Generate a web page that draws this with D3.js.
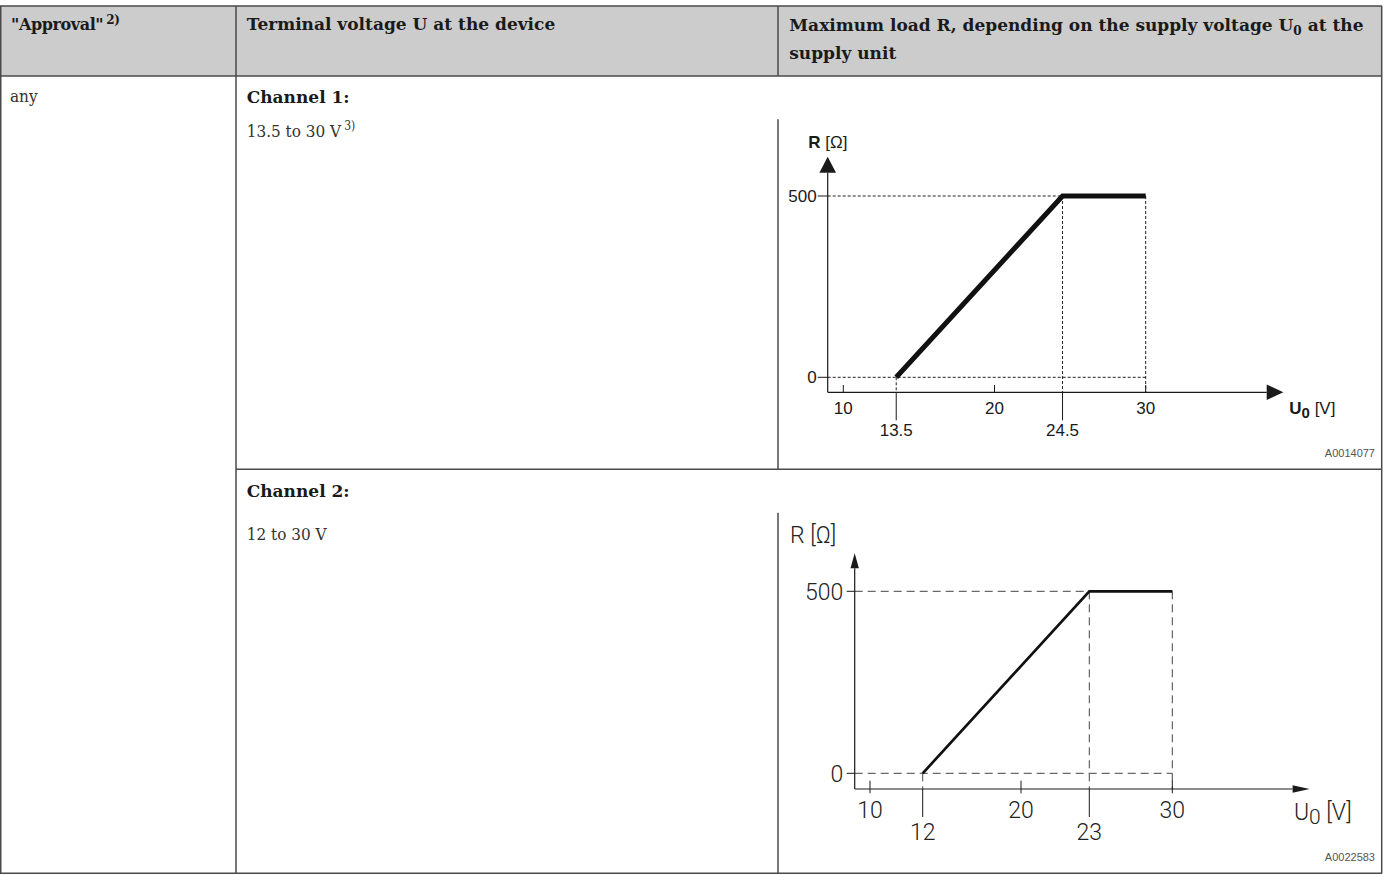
<!DOCTYPE html>
<html>
<head>
<meta charset="utf-8">
<script src="https://cdn.jsdelivr.net/npm/d3@7"></script>
<style>
body { margin: 0; background: #fff; }
.cell { font-family: 'DejaVu Serif', serif; font-size: 17px; fill: #1a1a1a; }
.head { font-weight: bold; }
.val { font-family: 'DejaVu Serif Condensed', 'DejaVu Serif', serif; fill: #333; }
.sup { font-size: 12px; }
.c1 text { font-family: 'Liberation Sans', Arial, sans-serif; font-size: 17px; fill: #1a1a1a; }
.c2 text { font-family: Roboto, 'DejaVu Sans', sans-serif; font-weight: 300; font-size: 23px; fill: #222; }
.figid { font-family: 'Liberation Sans', sans-serif; font-size: 11px; fill: #555; }
</style>
</head>
<body>
<div id="table"></div>
<script>
// Channel load curves: supply voltage U0 [V] -> max load R [Ohm]
const ch1Volt = [13.5, 24.5, 30];
const ch1Load = [0, 500, 500];
const ch2Volt = [12, 23, 30];
const ch2Load = [0, 500, 500];

// axis ticks
const voltTicks = [10, 20, 30];
const loadTicks = [0, 500];
const ch1Marks = [13.5, 24.5];
const ch2Marks = [12, 23];

const W = 1384, H = 875;

const svg = d3.select("#table")
  .append("svg")
  .attr("width", W)
  .attr("height", H);

// header band
svg.append("rect")
  .attr("x", 0).attr("y", 6)
  .attr("width", 1382).attr("height", 70)
  .attr("fill", "#cccccc");

// table rules
const rules = [
  [0, 6, 1382, 6], [0, 76, 1382, 76], [236, 469.3, 1382, 469.3], [0, 873.3, 1382, 873.3],
  [0.75, 6, 0.75, 873.3], [1381.7, 6, 1381.7, 873.3], [236, 6, 236, 873.3],
  [778, 6, 778, 76], [778, 119.3, 778, 469.3], [778, 512.7, 778, 873.3]
];
svg.append("g")
  .selectAll("line")
  .data(rules)
  .join("line")
  .attr("x1", d => d[0]).attr("y1", d => d[1])
  .attr("x2", d => d[2]).attr("y2", d => d[3])
  .attr("stroke", "#4a4a4a")
  .attr("stroke-width", 1.5);

// header texts
const t1 = svg.append("text").attr("class", "cell head").attr("x", 11).attr("y", 30)
  .style("font-size", "16px").attr("letter-spacing", -0.4);
t1.append("tspan").text('"Approval"');
t1.append("tspan").attr("class", "sup").attr("dx", 3).attr("dy", -6).text("2)");

svg.append("text").attr("class", "cell head").attr("x", 246.7).attr("y", 30)
  .text("Terminal voltage U at the device");

const t3 = svg.append("text").attr("class", "cell head").attr("x", 789.3).attr("y", 31);
t3.append("tspan").text("Maximum load R, depending on the supply voltage U");
t3.append("tspan").attr("class", "sup").attr("dy", 4).text("0");
t3.append("tspan").attr("dy", -4).text(" at the");
svg.append("text").attr("class", "cell head").attr("x", 789.3).attr("y", 59).text("supply unit");

// body texts
svg.append("text").attr("class", "cell val").attr("x", 10).attr("y", 102).text("any");
svg.append("text").attr("class", "cell head").attr("x", 246.7).attr("y", 103).text("Channel 1:");
const v1 = svg.append("text").attr("class", "cell val").attr("x", 246.7).attr("y", 137);
v1.append("tspan").text("13.5 to 30 V");
v1.append("tspan").attr("class", "sup").attr("dx", 3).attr("dy", -7).text("3)");
svg.append("text").attr("class", "cell head").attr("x", 246.7).attr("y", 497).text("Channel 2:");
svg.append("text").attr("class", "cell val").attr("x", 246.7).attr("y", 540).text("12 to 30 V");

// figure ids
svg.append("text").attr("class", "figid").attr("x", 1375).attr("y", 457.3)
  .attr("text-anchor", "end").text("A0014077");
svg.append("text").attr("class", "figid").attr("x", 1375).attr("y", 860.7)
  .attr("text-anchor", "end").text("A0022583");

// chart settings
const charts = [
  {
    cls: "c1", volt: ch1Volt, load: ch1Load, marks: ch1Marks,
    x: d3.scaleLinear().domain([10, 30]).range([843.3, 1145.7]),
    y: d3.scaleLinear().domain([0, 500]).range([377.3, 196]),
    ox: 827.7, oy: 392.3, top: 156.7, right: 1283.3,
    yArrow: [16, 8.3], xArrow: [16.6, 7.8], dash: "3,2", lineW: 5, guideCol: "#222",
    yTick: 10, tickUp: 7.3, tickDown: 0, markDrop: 28, labY1: 21.7, labY2: 43.7,
    yLabGap: 11, yLabDy: 6,
    rLab: [808.3, 148.3], rSize: 18, uLab: [1289.3, 414], uSize: 18, bold: true, subSize: 15, subDy: 4.3
  },
  {
    cls: "c2", volt: ch2Volt, load: ch2Load, marks: ch2Marks,
    // the source figure draws 12 and 23 where 13.5 and 24.5 sit on channel 1
    x: d3.scaleLinear().domain([10, 12, 20, 23, 30]).range([870, 922.7, 1021, 1089.3, 1172.3]),
    y: d3.scaleLinear().domain([0, 500]).range([773.3, 591.3]),
    ox: 854.7, oy: 789, top: 553.3, right: 1309.6,
    yArrow: [15, 4.2], xArrow: [17, 3.8], dash: "8,5", lineW: 2.7, guideCol: "#444",
    yTick: 8, tickUp: 8.3, tickDown: 4.3, markDrop: 28, labY1: 29.3, labY2: 51,
    yLabGap: 11.4, yLabDy: 8.7,
    rLab: [790, 543.3], rSize: 23, uLab: [1293.9, 820], uSize: 23, bold: false, subSize: 21, subDy: 4
  }
];

charts.forEach(function(c) {
  const g = svg.append("g").attr("class", c.cls);
  const x = c.x, y = c.y;
  const xMax = d3.max(c.volt), yMax = d3.max(c.load);

  // dashed guides
  const guides = [
    [c.ox, y(yMax), x(xMax), y(yMax)],
    [c.ox, y(0), x(xMax), y(0)],
    [x(xMax), y(yMax), x(xMax), c.oy],
    [x(c.marks[1]), y(yMax), x(c.marks[1]), c.oy],
    [x(c.marks[0]), y(0), x(c.marks[0]), c.oy]
  ];
  g.append("g")
    .selectAll("line")
    .data(guides)
    .join("line")
    .attr("x1", d => d[0]).attr("y1", d => d[1])
    .attr("x2", d => d[2]).attr("y2", d => d[3])
    .attr("stroke", c.guideCol)
    .attr("stroke-width", 1)
    .attr("stroke-dasharray", c.dash);

  // solid drop lines below the axis for the corner voltages
  g.append("g")
    .selectAll("line")
    .data(c.marks)
    .join("line")
    .attr("x1", d => x(d)).attr("x2", d => x(d))
    .attr("y1", c.oy).attr("y2", c.oy + c.markDrop)
    .attr("stroke", "#1a1a1a").attr("stroke-width", 1);

  // axes lines
  g.append("line")
    .attr("x1", c.ox).attr("y1", c.oy)
    .attr("x2", c.ox).attr("y2", c.top + c.yArrow[0])
    .attr("stroke", "#1a1a1a").attr("stroke-width", 1.2);
  g.append("line")
    .attr("x1", c.ox).attr("y1", c.oy)
    .attr("x2", c.right - c.xArrow[0]).attr("y2", c.oy)
    .attr("stroke", "#1a1a1a").attr("stroke-width", 1.2);

  // arrow heads
  g.append("path")
    .attr("d", `M${c.ox},${c.top} L${c.ox - c.yArrow[1]},${c.top + c.yArrow[0]} L${c.ox + c.yArrow[1]},${c.top + c.yArrow[0]} Z`)
    .attr("fill", "#1a1a1a");
  g.append("path")
    .attr("d", `M${c.right},${c.oy} L${c.right - c.xArrow[0]},${c.oy - c.xArrow[1]} L${c.right - c.xArrow[0]},${c.oy + c.xArrow[1]} Z`)
    .attr("fill", "#1a1a1a");

  // x ticks
  g.append("g")
    .selectAll("line")
    .data(voltTicks)
    .join("line")
    .attr("x1", d => x(d)).attr("x2", d => x(d))
    .attr("y1", c.oy - c.tickUp).attr("y2", c.oy + c.tickDown)
    .attr("stroke", "#1a1a1a").attr("stroke-width", 1);

  g.append("g")
    .selectAll("text")
    .data(voltTicks)
    .join("text")
    .attr("x", d => x(d))
    .attr("y", c.oy + c.labY1)
    .attr("text-anchor", "middle")
    .text(d => d);

  g.append("g")
    .selectAll("text")
    .data(c.marks)
    .join("text")
    .attr("x", d => x(d))
    .attr("y", c.oy + c.labY2)
    .attr("text-anchor", "middle")
    .text(d => d);

  // y ticks
  g.append("g")
    .selectAll("line")
    .data(loadTicks)
    .join("line")
    .attr("x1", c.ox - c.yTick).attr("x2", c.ox)
    .attr("y1", d => y(d)).attr("y2", d => y(d))
    .attr("stroke", "#1a1a1a").attr("stroke-width", 1);

  g.append("g")
    .selectAll("text")
    .data(loadTicks)
    .join("text")
    .attr("x", c.ox - c.yLabGap)
    .attr("y", d => y(d) + c.yLabDy)
    .attr("text-anchor", "end")
    .text(d => d);

  // load curve
  const pts = c.volt.map((v, i) => [v, c.load[i]]);
  g.append("path")
    .datum(pts)
    .attr("d", d3.line().x(d => x(d[0])).y(d => y(d[1])))
    .attr("fill", "none")
    .attr("stroke", "#111")
    .attr("stroke-width", c.lineW)
    .attr("stroke-linejoin", "miter");

  // axis titles
  const rt = g.append("text").attr("x", c.rLab[0]).attr("y", c.rLab[1]).attr("font-size", c.rSize);
  rt.append("tspan").attr("font-weight", c.bold ? "bold" : null).text("R");
  rt.append("tspan").text(" [Ω]");

  const ut = g.append("text").attr("x", c.uLab[0]).attr("y", c.uLab[1]).attr("font-size", c.uSize);
  ut.append("tspan").attr("font-weight", c.bold ? "bold" : null).text("U");
  ut.append("tspan").attr("font-weight", c.bold ? "bold" : null)
    .attr("font-size", c.subSize).attr("dy", c.subDy).text("0");
  ut.append("tspan").attr("dy", -c.subDy).text(" [V]");
});
</script>
</body>
</html>
